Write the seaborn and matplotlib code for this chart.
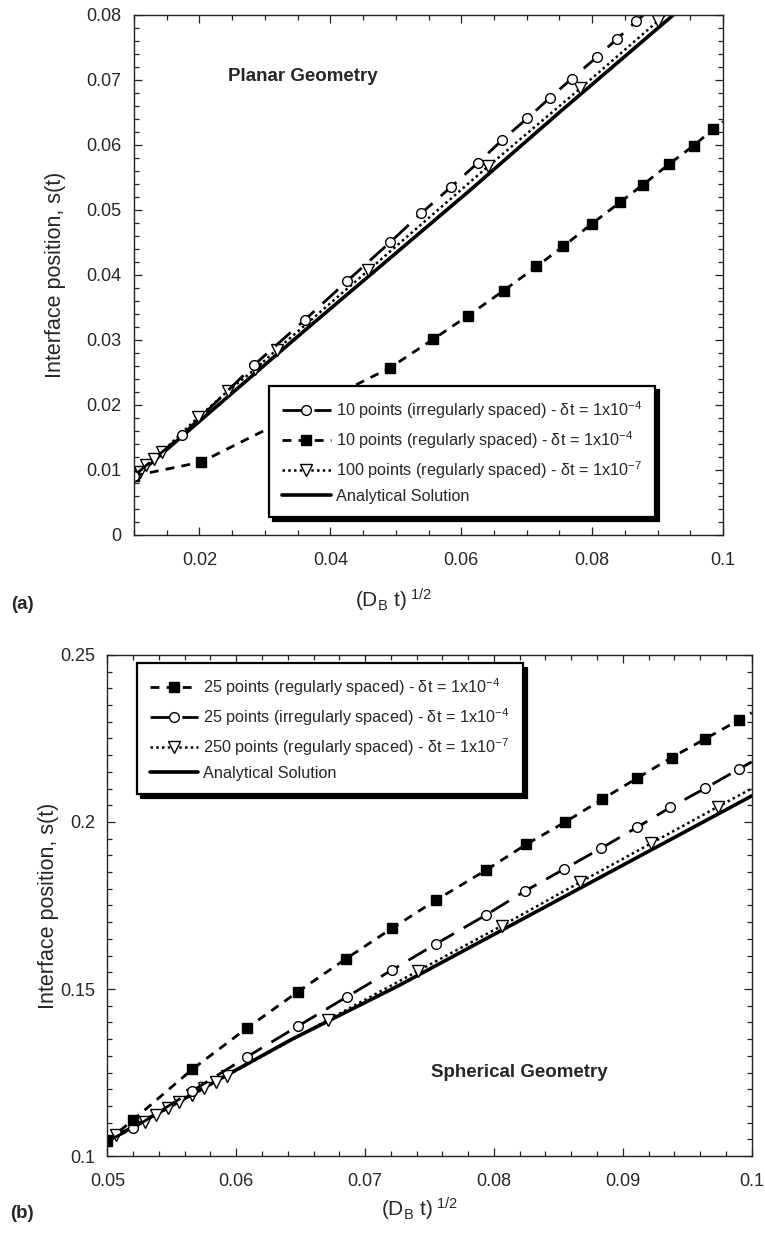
"""Interface position vs (D_B t)^1/2 — planar (a) and spherical (b) geometry."""
import matplotlib; matplotlib.use("Agg")
import matplotlib.pyplot as plt
from matplotlib.ticker import MultipleLocator, FuncFormatter
import seaborn as sns

# ── (a) planar geometry ──────────────────────────────────────────────────────
# the last point of each curve is where the line leaves the frame (no marker)
A_IRR_X = [0.0100, 0.0174, 0.0283, 0.0361, 0.0425, 0.0491, 0.0539, 0.0584, 0.0626,
           0.0663, 0.0701, 0.0736, 0.0769, 0.0807, 0.0838, 0.0867, 0.0882]
A_IRR_Y = [0.0091, 0.0154, 0.0261, 0.0331, 0.0390, 0.0450, 0.0495, 0.0535, 0.0573,
           0.0608, 0.0641, 0.0673, 0.0702, 0.0735, 0.0763, 0.0790, 0.0803]
A_REG_X = [0.0100, 0.0202, 0.0491, 0.0557, 0.0610, 0.0665, 0.0715, 0.0756, 0.0800,
           0.0843, 0.0878, 0.0917, 0.0955, 0.0985, 0.1000]
A_REG_Y = [0.0091, 0.0112, 0.0257, 0.0301, 0.0337, 0.0376, 0.0413, 0.0444, 0.0479,
           0.0512, 0.0539, 0.0570, 0.0599, 0.0624, 0.0636]
A_FINE_X = [0.0100, 0.0109, 0.0119, 0.0131, 0.0142, 0.0198, 0.0244, 0.0285, 0.0318,
            0.0458, 0.0641, 0.0782, 0.0901, 0.0915]
A_FINE_Y = [0.0091, 0.0097, 0.0108, 0.0117, 0.0127, 0.0181, 0.0222, 0.0255, 0.0285,
            0.0407, 0.0567, 0.0687, 0.0791, 0.0803]
A_AN_X = [0.0100, 0.0359, 0.0613, 0.0751, 0.0924, 0.1000]
A_AN_Y = [0.0088, 0.0313, 0.0530, 0.0651, 0.0800, 0.0866]
A_LABELS = ["10 points (irregularly spaced) - δt = 1x10$^{-4}$",
            "10 points (regularly spaced) - δt = 1x10$^{-4}$",
            "100 points (regularly spaced) - δt = 1x10$^{-7}$",
            "Analytical Solution"]

# ── (b) spherical geometry ───────────────────────────────────────────────────
B_REG_X = [0.0500, 0.0520, 0.0566, 0.0608, 0.0648, 0.0685, 0.0721, 0.0755, 0.0794,
           0.0825, 0.0855, 0.0884, 0.0911, 0.0938, 0.0964, 0.0990, 0.1000]
B_REG_Y = [0.1045, 0.1108, 0.1260, 0.1382, 0.1492, 0.1590, 0.1682, 0.1766, 0.1856,
           0.1933, 0.1999, 0.2068, 0.2131, 0.2193, 0.2249, 0.2305, 0.2327]
B_IRR_X = [0.0500, 0.0520, 0.0566, 0.0608, 0.0648, 0.0686, 0.0721, 0.0755, 0.0794,
           0.0824, 0.0854, 0.0883, 0.0911, 0.0937, 0.0964, 0.0990, 0.1000]
B_IRR_Y = [0.1045, 0.1083, 0.1195, 0.1296, 0.1389, 0.1477, 0.1557, 0.1635, 0.1722,
           0.1793, 0.1858, 0.1921, 0.1984, 0.2044, 0.2101, 0.2158, 0.2180]
B_FINE_X = [0.0500, 0.0507, 0.0529, 0.0538, 0.0547, 0.0556, 0.0566, 0.0575, 0.0584,
            0.0593, 0.0671, 0.0741, 0.0806, 0.0867, 0.0922, 0.0974, 0.1000]
B_FINE_Y = [0.1045, 0.1063, 0.1103, 0.1123, 0.1143, 0.1163, 0.1183, 0.1203, 0.1223,
            0.1241, 0.1407, 0.1554, 0.1689, 0.1820, 0.1936, 0.2046, 0.2100]
B_AN_X = [0.0500, 0.0642, 0.0727, 0.1000]
B_AN_Y = [0.1045, 0.1347, 0.1512, 0.2078]
B_LABELS = ["25 points (regularly spaced) - δt = 1x10$^{-4}$",
            "25 points (irregularly spaced) - δt = 1x10$^{-4}$",
            "250 points (regularly spaced) - δt = 1x10$^{-7}$",
            "Analytical Solution"]

sns.set_theme(style="ticks")
FONT = ["Liberation Sans", "DejaVu Sans"]
plt.rcParams.update({
    "font.family": FONT,
    "mathtext.fontset": "custom",
    "mathtext.rm": "Liberation Sans",
    "mathtext.it": "Liberation Sans:italic",
    "mathtext.bf": "Liberation Sans:bold",
    "axes.edgecolor": "#222",
    "axes.linewidth": 1.0,
})

IRR = dict(color="black", linestyle=(0, (7.5, 4)), lw=2.0, marker="o", ms=7,
           mfc="white", mec="black", mew=1.0)
REG = dict(color="black", linestyle=(0, (3.2, 2.6)), lw=2.0, marker="s", ms=7,
           mfc="black", mec="black", mew=1.0)
FINE = dict(color="black", linestyle=(0, (1, 1.3)), lw=1.8, marker="v", ms=8,
            mfc="white", mec="black", mew=1.0)
AN = dict(color="black", linestyle="-", lw=2.6)


def line(ax, x, y, label, kws):
    if "marker" in kws:
        kws = dict(kws, markevery=slice(0, len(x) - 1))
    sns.lineplot(x=x, y=y, ax=ax, sort=False, estimator=None, label=label, **kws)


def style_axes(ax, xmaj, xmin, ymaj, ymin):
    ax.xaxis.set_major_locator(MultipleLocator(xmaj))
    ax.xaxis.set_minor_locator(MultipleLocator(xmin))
    ax.yaxis.set_major_locator(MultipleLocator(ymaj))
    ax.yaxis.set_minor_locator(MultipleLocator(ymin))
    fmt = FuncFormatter(lambda v, _: f"{v:.10g}")
    ax.xaxis.set_major_formatter(fmt)
    ax.yaxis.set_major_formatter(fmt)
    ax.tick_params(which="both", direction="in", top=True, right=True,
                   labelsize=13, width=0.9, color="#222")
    ax.tick_params(which="major", length=6)
    ax.tick_params(which="minor", length=3.5)
    ax.tick_params(axis="x", which="major", pad=12)
    ax.tick_params(axis="y", which="major", pad=9)


def legend(ax, order, **kw):
    h, l = ax.get_legend_handles_labels()
    leg = ax.legend([h[i] for i in order], [l[i] for i in order], fontsize=11.7,
                    handlelength=3.0, handletextpad=0.3, labelspacing=0.5,
                    borderpad=0.8, borderaxespad=0, fancybox=False, framealpha=1,
                    edgecolor="black",
                    shadow={"ox": 3, "oy": -3, "color": "black", "alpha": 1}, **kw)
    leg.get_frame().set_linewidth(1.6)
    leg.set_zorder(10)


fig = plt.figure(figsize=(7.65, 12.36), dpi=100)
ax1 = fig.add_axes([0.1752, 0.5672, 0.7699, 0.4207])
ax2 = fig.add_axes([0.1403, 0.0647, 0.8423, 0.4054])

line(ax1, A_AN_X, A_AN_Y, A_LABELS[3], AN)
line(ax1, A_FINE_X, A_FINE_Y, A_LABELS[2], FINE)
line(ax1, A_REG_X, A_REG_Y, A_LABELS[1], REG)
line(ax1, A_IRR_X, A_IRR_Y, A_LABELS[0], IRR)
ax1.set_xlim(0.01, 0.1)
ax1.set_ylim(0, 0.08)
style_axes(ax1, 0.02, 0.005, 0.01, 0.002)
legend(ax1, [3, 2, 1, 0], loc="lower left", bbox_to_anchor=(0.229, 0.035))
ax1.text(0.0358, 0.0705, "Planar Geometry", fontsize=13.5, fontweight="bold",
         ha="center", va="center")

line(ax2, B_AN_X, B_AN_Y, B_LABELS[3], AN)
line(ax2, B_FINE_X, B_FINE_Y, B_LABELS[2], FINE)
line(ax2, B_IRR_X, B_IRR_Y, B_LABELS[1], IRR)
line(ax2, B_REG_X, B_REG_Y, B_LABELS[0], REG)
ax2.set_xlim(0.05, 0.1)
ax2.set_ylim(0.1, 0.25)
style_axes(ax2, 0.01, 0.002, 0.05, 0.005)
legend(ax2, [3, 2, 1, 0], loc="upper left", bbox_to_anchor=(0.0456, 0.983))
ax2.text(0.0820, 0.1249, "Spherical Geometry", fontsize=13.5, fontweight="bold",
         ha="center", va="center")

xlab = "(D$_\\mathrm{B}$ t)$^{\\ 1/2}$"
for ax, xy_x, xy_y in [(ax1, (0.44, -0.100), -0.1155), (ax2, (0.485, -0.080), -0.075)]:
    ax.set_xlabel(xlab, fontsize=15)
    ax.set_ylabel("Interface position, s(t)", fontsize=15.5)
    ax.xaxis.set_label_coords(*xy_x)
    ax.yaxis.set_label_coords(xy_y, 0.5)

fig.text(0.029, 0.5113, "(a)", fontsize=13.5, fontweight="bold", ha="center", va="center")
fig.text(0.029, 0.0186, "(b)", fontsize=13.5, fontweight="bold", ha="center", va="center")

fig.savefig("out.png", dpi=100)
